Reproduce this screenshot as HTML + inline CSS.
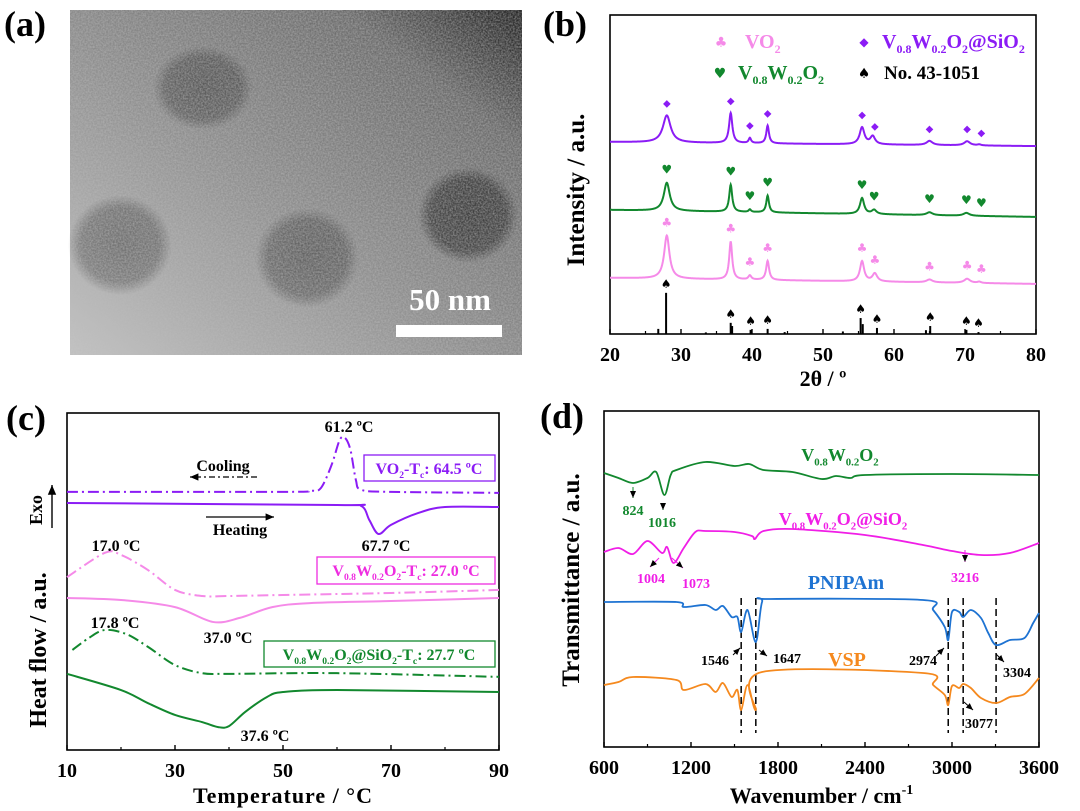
<!DOCTYPE html>
<html><head><meta charset="utf-8">
<style>
html,body{margin:0;padding:0;background:#fff;}
svg{display:block;font-family:"Liberation Serif",serif;font-weight:bold;}
</style></head>
<body>
<svg id="fig" width="1080" height="811" viewBox="0 0 1080 811" xmlns="http://www.w3.org/2000/svg">
<defs>
<linearGradient id="temBg" x1="0" y1="1" x2="1" y2="0">
<stop offset="0" stop-color="#c4c4c4"/><stop offset="0.45" stop-color="#8e8e8e"/><stop offset="0.8" stop-color="#6a6a6a"/><stop offset="1" stop-color="#1c1c1c"/>
</linearGradient>
<radialGradient id="blob"><stop offset="0" stop-color="#000" stop-opacity="0.34"/><stop offset="0.75" stop-color="#000" stop-opacity="0.28"/><stop offset="1" stop-color="#000" stop-opacity="0"/></radialGradient>
<radialGradient id="blobD"><stop offset="0" stop-color="#000" stop-opacity="0.5"/><stop offset="0.75" stop-color="#000" stop-opacity="0.44"/><stop offset="1" stop-color="#000" stop-opacity="0"/></radialGradient>
<filter id="noise" x="0" y="0" width="100%" height="100%">
<feTurbulence type="fractalNoise" baseFrequency="0.6" numOctaves="2" seed="3"/>
<feColorMatrix type="matrix" values="0 0 0 0 0.5  0 0 0 0 0.5  0 0 0 0 0.5  0 0 0 1.6 -0.4"/>
</filter>
<marker id="arrR" markerWidth="8" markerHeight="8" refX="7" refY="4" orient="auto"><path d="M0,1 L7,4 L0,7 Z" fill="#000"/></marker>
</defs>

<!-- Panel a -->
<g>
<rect x="70" y="10" width="452" height="345" fill="url(#temBg)"/>
<ellipse cx="203" cy="88" rx="50" ry="42" fill="url(#blob)"/>
<ellipse cx="120" cy="245" rx="52" ry="50" fill="url(#blob)"/>
<ellipse cx="307" cy="258" rx="52" ry="50" fill="url(#blob)"/>
<ellipse cx="468" cy="215" rx="50" ry="48" fill="url(#blobD)"/>
<rect x="70" y="10" width="452" height="345" filter="url(#noise)" opacity="0.6"/>
<text x="450" y="310" font-size="31" fill="#fff" text-anchor="middle">50 nm</text>
<rect x="396" y="325" width="106" height="12" fill="#fff"/>
</g>
<text x="4" y="36" font-size="36">(a)</text>
<text x="543" y="36" font-size="36">(b)</text>
<text x="6" y="430" font-size="36">(c)</text>
<text x="540" y="428" font-size="36">(d)</text>

<g id="pb"></g>
<g id="pc"></g>
<g id="pd"></g>
</svg>

<script>
// ---------- Panel b data ----------
const xrdTicks = [20,30,40,50,60,70,80];
const purpleBase = [60.2, 58.9];
const purplePos = [28, 37, 39.7, 42.2, 55.5, 57, 65, 70.3, 72];
const purpleHt  = [8.5, 9.4, 1.6, 5.6, 5.3, 2.5, 1.3, 1.3, 0.3];
const purpleW   = [1.3, 0.55, 0.4, 0.45, 0.8, 0.8, 1.0, 1.0, 0.6];
const greenBase = [38.9, 36.7];
const greenPos = [28, 37, 39.7, 42.2, 55.5, 57.2, 65, 70.2];
const greenHt  = [8.8, 8.5, 0.8, 5.3, 5.0, 1.3, 0.9, 0.9];
const greenW   = [1.0, 0.5, 0.4, 0.45, 0.7, 0.8, 1.0, 1.0];
const pinkBase = [17.6, 15.7];
const pinkPos = [28, 37, 39.7, 42.2, 55.5, 57.3, 65, 70.3, 72];
const pinkHt  = [13.5, 11.9, 1.3, 6.0, 6.3, 2.5, 0.9, 1.3, 0.4];
const pinkW   = [0.9, 0.5, 0.5, 0.5, 0.7, 0.8, 1.0, 1.0, 0.6];
const purpleMarks = [28, 37, 39.7, 42.2, 55.5, 57.3, 65, 70.3, 72.3];
const greenMarks  = [28, 37, 39.7, 42.2, 55.5, 57.2, 65, 70.2, 72.3];
const pinkMarks   = [28, 37, 39.7, 42.2, 55.5, 57.3, 65, 70.3, 72.3];
const stickPos = [26.8, 27.9, 33.5, 37.0, 37.2, 39.8, 42.2, 44.6, 52.8, 55.3, 55.6, 57.6, 64.5, 65.1, 70.2, 71.9];
const stickHt  = [1.6, 12.9, 0.5, 3.5, 2.5, 1.3, 1.6, 0.6, 0.8, 5.0, 3.1, 1.9, 1.2, 2.5, 1.3, 0.6];
const spadeMarks = [27.9, 37, 39.8, 42.2, 55.3, 57.6, 65.1, 70.2, 71.9];

// ---------- Panel c data ----------
const dscTicks = [10,30,50,70,90];
const vo2CoolT = [10,50,55,57,59,60.5,61.5,62.5,63.5,64.5,70,90];
const vo2CoolH = [76.6,76.6,76.9,77.7,84.6,92.0,92.6,89.0,80.1,77.2,76.6,76.3];
const vo2HeatT = [10,60,64.5,66,67.7,70,75,80,90];
const vo2HeatH = [73.3,72.7,72.4,68.2,64.1,66.8,70.3,72.1,72.1];
const vwCoolT = [10,17,20,25,30,35,40,50,70,90];
const vwCoolH = [51.3,58.5,57.9,53.4,47.5,45.7,45.7,46.0,46.6,47.5];
const vwHeatT = [10,20,30,37,42,48,55,70,90];
const vwHeatH = [45.1,44.5,42.4,38.0,39.2,42.4,43.6,44.2,45.1];
const vsCoolT = [11,14,17,21,25,30,35,40,60,90];
const vsCoolH = [29.7,33.2,35.6,34.4,30.6,25.2,22.8,22.6,22.8,21.7];
const vsHeatT = [10,20,25,30,35,38,40,43,47,50,60,90];
const vsHeatH = [22.6,17.8,13.9,10.4,8.3,6.8,7.1,11.3,15.7,17.2,17.8,17.2];

// ---------- Panel d data ----------
const irTicks = [600,1200,1800,2400,3000,3600];
const gWn = [600,700,800,900,960,1016,1060,1100,1300,1500,1600,1700,1900,2100,2200,2300,2400,3000,3600];
const gT  = [274,269,264,269,275,252,272,277,285,281,283,277,275,268,271,269,272,273,272];
const mWn = [600,700,800,900,1000,1035,1080,1150,1230,1300,1500,1620,1640,1700,1900,2400,2800,3000,3200,3400,3600];
const mT  = [195,199,193,206,194,200,184,199,215,216,215,211,208,216,218,212,202,196,192,194,204];
const bWn = [600,1100,1150,1300,1370,1420,1480,1520,1546,1590,1647,1690,1750,2800,2870,2950,2974,3000,3050,3077,3130,3200,3250,3304,3400,3500,3560,3600];
const bT  = [145,145,140,142,137,141,130,130,115,137,105,145,148,147,137,120,107,135,135,130,137,129,114,102,107,109,124,134];
const oWn = [600,700,800,1100,1150,1300,1370,1420,1480,1520,1546,1590,1647,1690,2800,2870,2950,2974,3000,3050,3077,3130,3200,3304,3400,3500,3600];
const oT  = [62,65,70,67,57,63,55,64,50,57,37,62,37,75,74,62,52,42,61,59,63,59,49,44,50,53,69];
const dashWn = [1546,1647,2974,3077,3304];

const NS = "http://www.w3.org/2000/svg";
function mk(parent, tag, attrs, text){
  const e = document.createElementNS(NS, tag);
  for (const k in attrs) e.setAttribute(k, attrs[k]);
  if (text !== undefined) e.textContent = text;
  parent.appendChild(e);
  return e;
}
function smoothPath(pts){
  let d = "M" + pts[0][0].toFixed(2) + "," + pts[0][1].toFixed(2);
  for (let i=0;i<pts.length-1;i++){
    const p0 = pts[Math.max(0,i-1)], p1 = pts[i], p2 = pts[i+1], p3 = pts[Math.min(pts.length-1,i+2)];
    const t = 0.16;
    const c1 = [p1[0]+(p2[0]-p0[0])*t, p1[1]+(p2[1]-p0[1])*t];
    const c2 = [p2[0]-(p3[0]-p1[0])*t, p2[1]-(p3[1]-p1[1])*t];
    d += " C"+c1[0].toFixed(2)+","+c1[1].toFixed(2)+" "+c2[0].toFixed(2)+","+c2[1].toFixed(2)+" "+p2[0].toFixed(2)+","+p2[1].toFixed(2);
  }
  return d;
}
function richLabel(parent, x, y, size, color, parts, anchor){
  const t = mk(parent, "text", {x:x, y:y, "font-size":size, fill:color, "text-anchor":anchor||"start"});
  parts.forEach(p=>{
    mk(t, "tspan", p[1] ? {"font-size":size*0.6, dy:size*0.25} : {dy: 0}, p[0]);
    if (p[1]) { mk(t,"tspan",{"font-size":1, dy:-size*0.25}, "\u200b"); }
  });
  return t;
}

// ================= Panel b =================
(function(){
  const g = document.getElementById("pb");
  const L=610, R=1036, T=15, B=334;
  const xb = v => L + (v-20)*(R-L)/60;
  const yb = v => B - v*(B-T)/100;
  const frame = mk(g,"rect",{x:L,y:T,width:R-L,height:B-T,fill:"none",stroke:"#000","stroke-width":1.6});
  
  
  xrdTicks.forEach(v=>{
    mk(g,"line",{x1:xb(v),x2:xb(v),y1:B,y2:B-5,stroke:"#000","stroke-width":1.4});
    const t = mk(g,"text",{x:xb(v),y:B+27,"font-size":20,"text-anchor":"middle"}, String(v));
    
    
  });
  for (let v=25; v<80; v+=10) mk(g,"line",{x1:xb(v),x2:xb(v),y1:B,y2:B-3,stroke:"#000","stroke-width":1.2});
  const xl = mk(g,"text",{x:(L+R)/2,y:386,"font-size":22,"text-anchor":"middle"},"2θ / º");
  
  
  const yl = mk(g,"text",{x:0,y:0,"font-size":25,"text-anchor":"middle",transform:"translate(584,190) rotate(-90)"},"Intensity / a.u.");
  
  

  function curveVal(base,pos,ht,w,x){
    let v = base[0] + (base[1]-base[0])*(x-20)/60;
    for (let i=0;i<pos.length;i++){ const d=(x-pos[i])/(w[i]/2); v += ht[i]/(1+d*d); }
    return v;
  }
  function drawSeries(name,color,base,pos,ht,w,marks,glyph,gsize){
    let d="";
    for (let x=20; x<=80.0001; x+=0.05){
      const px=xb(x), py=yb(curveVal(base,pos,ht,w,x));
      d += (d?" L":"M")+px.toFixed(2)+","+py.toFixed(2);
    }
    const p = mk(g,"path",{d:d,fill:"none",stroke:color,"stroke-width":2});
    
    
    marks.forEach(m=>{
      const ty = yb(curveVal(base,pos,ht,w,m)) - 9;
      const mt = mk(g,"text",{x:xb(m),y:ty,"font-size":gsize,fill:color,"text-anchor":"middle","font-family":"DejaVu Sans"},glyph);
      
      
    });
  }
  drawSeries("vw-sio2","#8b1cf5",purpleBase,purplePos,purpleHt,purpleW,purpleMarks,"◆",10);
  drawSeries("vw","#12882e",greenBase,greenPos,greenHt,greenW,greenMarks,"♥",12);
  drawSeries("vo2","#f58ae8",pinkBase,pinkPos,pinkHt,pinkW,pinkMarks,"♣",12);
  stickPos.forEach((s,i)=>{
    const ln = mk(g,"line",{x1:xb(s),x2:xb(s),y1:B,y2:yb(stickHt[i]),stroke:"#000","stroke-width":2});
    
    
  });
  spadeMarks.forEach(s=>{
    let h=0; stickPos.forEach((p,i)=>{ if (Math.abs(p-s)<0.4) h=Math.max(h,stickHt[i]); });
    const mt = mk(g,"text",{x:xb(s),y:yb(h)-5,"font-size":12,"text-anchor":"middle","font-family":"DejaVu Sans"},"♠");
    
    
  });
  const lg = mk(g,"g",{});
  
  
  mk(lg,"text",{x:721,y:47,"font-size":14,fill:"#f58ae8","text-anchor":"middle","font-family":"DejaVu Sans"},"♣");
  richLabel(lg,745,48,20,"#f58ae8",[["VO",0],["2",1]]);
  mk(lg,"text",{x:864,y:46,"font-size":12,fill:"#8b1cf5","text-anchor":"middle","font-family":"DejaVu Sans"},"◆");
  richLabel(lg,882,48,20,"#8b1cf5",[["V",0],["0.8",1],["W",0],["0.2",1],["O",0],["2",1],["@SiO",0],["2",1]]);
  mk(lg,"text",{x:720,y:78,"font-size":14,fill:"#12882e","text-anchor":"middle","font-family":"DejaVu Sans"},"♥");
  richLabel(lg,738,79,20,"#12882e",[["V",0],["0.8",1],["W",0],["0.2",1],["O",0],["2",1]]);
  mk(lg,"text",{x:864,y:78,"font-size":14,"text-anchor":"middle","font-family":"DejaVu Sans"},"♠");
  mk(lg,"text",{x:884,y:79,"font-size":19},"No. 43-1051");
})();

// ================= Panel c =================
(function(){
  const g = document.getElementById("pc");
  const L=67, R=499, T=413, B=750;
  const xc = v => L + (v-10)*(R-L)/80;
  const yc = v => B - v*(B-T)/100;
  const frame = mk(g,"rect",{x:L,y:T,width:R-L,height:B-T,fill:"none",stroke:"#000","stroke-width":1.6});
  
  
  dscTicks.forEach(v=>{
    mk(g,"line",{x1:xc(v),x2:xc(v),y1:B,y2:B-5,stroke:"#000","stroke-width":1.4});
    const t = mk(g,"text",{x:xc(v),y:B+27,"font-size":20,"text-anchor":"middle"},String(v));
    
    
  });
  for (let v=20; v<90; v+=20) mk(g,"line",{x1:xc(v),x2:xc(v),y1:B,y2:B-3,stroke:"#000","stroke-width":1.2});
  const xl = mk(g,"text",{x:(L+R)/2,y:803,"font-size":22,"text-anchor":"middle","letter-spacing":"1"},"Temperature / °C");
  
  
  const yl = mk(g,"text",{x:0,y:0,"font-size":24,"text-anchor":"middle",transform:"translate(46,650) rotate(-90)"},"Heat flow / a.u.");
  
  
  const ex = mk(g,"text",{x:0,y:0,"font-size":18,"text-anchor":"middle",transform:"translate(42,510) rotate(-90)"},"Exo");
  
  
  mk(g,"line",{x1:52,y1:528,x2:52,y2:485,stroke:"#000","stroke-width":1.4,"marker-end":"url(#arrR)"});

  function draw(name,color,Ts,Hs,dash){
    const pts = Ts.map((t,i)=>[xc(t),yc(Hs[i])]);
    const a = {d:smoothPath(pts),fill:"none",stroke:color,"stroke-width":2};
    if (dash) a["stroke-dasharray"]="11 4 2 4";
    const p = mk(g,"path",a);
    
    
  }
  draw("vo2-cooling-curve","#8b1cf5",vo2CoolT,vo2CoolH,true);
  draw("vo2-heating-curve","#8b1cf5",vo2HeatT,vo2HeatH,false);
  draw("vw-cooling-curve","#f58ae8",vwCoolT,vwCoolH,true);
  draw("vw-heating-curve","#f58ae8",vwHeatT,vwHeatH,false);
  draw("vw-sio2-cooling-curve","#12882e",vsCoolT,vsCoolH,true);
  draw("vw-sio2-heating-curve","#12882e",vsHeatT,vsHeatH,false);

  const ann = [[349,432,"61.2 ºC"],[386,551,"67.7 ºC"],[116,551,"17.0 ºC"],[228,643,"37.0 ºC"],[115,628,"17.8 ºC"],[265,741,"37.6 ºC"]];
  ann.forEach(a=>{
    const t = mk(g,"text",{x:a[0],y:a[1],"font-size":16,"text-anchor":"middle"},a[2]);
    
    
  });
  mk(g,"text",{x:223,y:471,"font-size":16,"text-anchor":"middle"},"Cooling");
  mk(g,"line",{x1:257,y1:477,x2:190,y2:477,stroke:"#000","stroke-width":1.2,"stroke-dasharray":"6 3 2 3","marker-end":"url(#arrR)"});
  mk(g,"text",{x:240,y:535,"font-size":16,"text-anchor":"middle"},"Heating");
  mk(g,"line",{x1:206,y1:517,x2:274,y2:517,stroke:"#000","stroke-width":1.2,"marker-end":"url(#arrR)"});

  const b1 = mk(g,"g",{});  
  mk(b1,"rect",{x:364,y:455,width:131,height:26,fill:"#fff",stroke:"#8b1cf5","stroke-width":1.3});
  richLabel(b1,429,474,16,"#8b1cf5",[["VO",0],["2",1],["-T",0],["c",1],[": 64.5 ºC",0]],"middle");
  const b2 = mk(g,"g",{});  
  mk(b2,"rect",{x:317,y:557,width:178,height:27,fill:"#fff",stroke:"#ee2ce0","stroke-width":1.3});
  richLabel(b2,406,576,16,"#ee2ce0",[["V",0],["0.8",1],["W",0],["0.2",1],["O",0],["2",1],["-T",0],["c",1],[": 27.0 ºC",0]],"middle");
  const b3 = mk(g,"g",{});  
  mk(b3,"rect",{x:264,y:641,width:231,height:26,fill:"#fff",stroke:"#12882e","stroke-width":1.3});
  richLabel(b3,379,660,16,"#12882e",[["V",0],["0.8",1],["W",0],["0.2",1],["O",0],["2",1],["@SiO",0],["2",1],["-T",0],["c",1],[": 27.7 ºC",0]],"middle");
})();

// ================= Panel d =================
(function(){
  const g = document.getElementById("pd");
  const L=604, R=1039, T=411, B=747;
  const xd = v => L + (v-600)*(R-L)/3000;
  const yd = v => B - v*(B-T)/336;
  const frame = mk(g,"rect",{x:L,y:T,width:R-L,height:B-T,fill:"none",stroke:"#000","stroke-width":1.6});
  
  
  irTicks.forEach(v=>{
    mk(g,"line",{x1:xd(v),x2:xd(v),y1:B,y2:B-5,stroke:"#000","stroke-width":1.4});
    const t = mk(g,"text",{x:xd(v),y:B+27,"font-size":20,"text-anchor":"middle"},String(v));
    
    
  });
  for (let v=900; v<3600; v+=600) mk(g,"line",{x1:xd(v),x2:xd(v),y1:B,y2:B-3,stroke:"#000","stroke-width":1.2});
  const xl = mk(g,"text",{x:(L+R)/2,y:803,"font-size":22,"text-anchor":"middle"});
  
  
  mk(xl,"tspan",{},"Wavenumber / cm");
  mk(xl,"tspan",{"font-size":14,dy:-9},"-1");
  const yl = mk(g,"text",{x:0,y:0,"font-size":25,"text-anchor":"middle",transform:"translate(579,580) rotate(-90)"},"Transmittance / a.u.");
  
  

  dashWn.forEach(w=>{
    const ln = mk(g,"line",{x1:xd(w),x2:xd(w),y1:598,y2:733,stroke:"#000","stroke-width":1.5,"stroke-dasharray":"7 4"});
    
    
  });
  function draw(name,color,W,Tv){
    const pts = W.map((w,i)=>[xd(w),yd(Tv[i])]);
    const p = mk(g,"path",{d:smoothPath(pts),fill:"none",stroke:color,"stroke-width":1.8});
    
    
  }
  draw("vw-ftir-curve","#12882e",gWn,gT);
  draw("vw-sio2-ftir-curve","#f01ee6",mWn,mT);
  draw("pnipam-ftir-curve","#1e73d2",bWn,bT);
  draw("vsp-ftir-curve","#f5891e",oWn,oT);

  richLabel(g,840,461,18,"#12882e",[["V",0],["0.8",1],["W",0],["0.2",1],["O",0],["2",1]],"middle");
  richLabel(g,843,525,18,"#f01ee6",[["V",0],["0.8",1],["W",0],["0.2",1],["O",0],["2",1],["@SiO",0],["2",1]],"middle");
  const pn = mk(g,"text",{x:846,y:589,"font-size":20,fill:"#1e73d2","text-anchor":"middle"},"PNIPAm");
   
  const vs = mk(g,"text",{x:847,y:666,"font-size":20,fill:"#f5891e","text-anchor":"middle"},"VSP");
   

  const nums = [[633,515,"824","#12882e"],[662,527,"1016","#12882e"],[651,583,"1004","#f01ee6"],[696,588,"1073","#f01ee6"],[965,582,"3216","#f01ee6"],
                [715,665,"1546","#000"],[787,663,"1647","#000"],[923,665,"2974","#000"],[1017,677,"3304","#000"],[979,728,"3077","#000"]];
  nums.forEach(n=>{
    const t = mk(g,"text",{x:n[0],y:n[1],"font-size":14,fill:n[3],"text-anchor":"middle"},n[2]);
    
    
  });
  const arrows = [[633,487,633,498,"#12882e"],[663,505,663,510,"#12882e"],[659,558,650,567,"#f01ee6"],[672,558,683,568,"#f01ee6"],[965,550,965,562,"#f01ee6"],
                  [733,655,740,648,"#000"],[759,650,767,656,"#000"],[936,656,944,648,"#000"],[996,654,1004,662,"#000"],[964,702,973,710,"#000"]];
  arrows.forEach(a=>{
    mk(g,"line",{x1:a[0],y1:a[1],x2:a[2],y2:a[3],stroke:a[4],"stroke-width":1,"marker-end":"url(#arrR)"});
  });
})();
</script>
</body></html>
